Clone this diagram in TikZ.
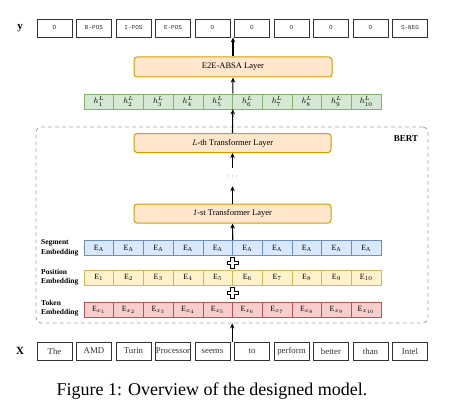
\documentclass[tikz,border=0pt]{standalone}
\usepackage{fontspec}
\setmainfont{Liberation Serif}
\setmonofont{Liberation Mono}
\usetikzlibrary{arrows.meta,calc}
\definecolor{boxgray}{HTML}{333333}
\definecolor{lyfill}{HTML}{FFE6CC}
\definecolor{lydraw}{HTML}{D79B00}
\definecolor{grfill}{HTML}{D5E8D4}
\definecolor{grdraw}{HTML}{82B366}
\definecolor{blfill}{HTML}{DAE8FC}
\definecolor{bldraw}{HTML}{6C8EBF}
\definecolor{yefill}{HTML}{FFF2CC}
\definecolor{yedraw}{HTML}{D6B656}
\definecolor{refill}{HTML}{F8CECC}
\definecolor{redraw}{HTML}{B85450}
\definecolor{dashgray}{HTML}{A6A6A6}
\tikzset{
  tagbox/.style={draw=boxgray, line width=0.9pt, minimum width=35pt, minimum height=18pt, inner sep=0pt, font=\ttfamily\fontsize{6}{7}\selectfont, text=boxgray},
  wordbox/.style={draw=boxgray, line width=0.9pt, minimum width=35pt, minimum height=18pt, inner sep=0pt, font=\fontsize{8.8}{10}\selectfont, text=boxgray},
  layerbox/.style={draw=lydraw, fill=lyfill, line width=1pt, rounded corners=3pt, minimum width=197pt, minimum height=19pt, inner sep=0pt, font=\fontsize{8.5}{10}\selectfont},
  cell/.style={minimum width=29.7pt, minimum height=15pt, inner sep=0pt, line width=0.6pt, font=\fontsize{8}{9}\selectfont},
  hcell/.style={cell, draw=grdraw, fill=grfill},
  scell/.style={cell, draw=bldraw, fill=blfill},
  pcell/.style={cell, draw=yedraw, fill=yefill},
  tcell/.style={cell, draw=redraw, fill=refill},
  conn/.style={-{Stealth[length=5pt,width=4.5pt]}, line width=1.1pt, black},
  rowlab/.style={anchor=west, align=left, inner sep=0pt, font=\bfseries\fontsize{7.5}{9.5}\selectfont},
  plussign/.style={draw=black, fill=white, line width=0.9pt}
}
\begin{document}
\begin{tikzpicture}[x=1pt,y=-1pt]
\useasboundingbox (0,0) rectangle (450,404);
% BERT container
\node (bert) [draw=dashgray, dashed, dash pattern=on 4pt off 3pt, line width=0.9pt, rounded corners=5pt, minimum width=392pt, minimum height=196pt, inner sep=0pt] at (232,225) {};
\node (bertlab) [font=\bfseries\fontsize{9}{10}\selectfont] at (406,139) {BERT};
% output tags
\node (ylab) [font=\bfseries\fontsize{11}{12}\selectfont] at (20,28) {y};
\foreach \t [count=\i] in {O,B-POS,I-POS,E-POS,O,O,O,O,O,S-NEG}
  \node (y\i) [tagbox] at ({54.5+39.5*(\i-1)},28) {\t};
% input words
\node (xlab) [font=\bfseries\fontsize{11}{12}\selectfont] at (20,351) {X};
\foreach \t [count=\i] in {The,AMD,Turin,Processor,seems,to,perform,better,than,Intel}
  \node (x\i) [wordbox] at ({54.5+39.5*(\i-1)},351) {\t};
% layers
\node (e2e) [layerbox, minimum width=198pt, minimum height=20pt] at (233,67) {E2E-ABSA Layer};
\node (lth) [layerbox] at (232.5,143) {$L$-th Transformer Layer};
\node (first) [layerbox] at (232.5,213.5) {\textit{1}-st Transformer Layer};
\node (dots) [minimum height=18pt, inner sep=0pt, font=\fontsize{8}{9}\selectfont, text=boxgray] at (232.5,177) {$\cdots$};
% hidden states
\foreach \i in {1,...,10}
  \node (h\i) [hcell] at ({98.85+29.7*(\i-1)},101.5) {$h^{L}_{\i}$};
% embeddings
\foreach \i in {1,...,10}{
  \node (s\i) [scell] at ({98.85+29.7*(\i-1)},248) {E$_{\mathrm{A}}$};
  \node (p\i) [pcell] at ({98.85+29.7*(\i-1)},277.5) {E$_{\i}$};
  \node (t\i) [tcell] at ({98.85+29.7*(\i-1)},309.5) {E$_{x_{\i}}$};
}
\node (segl) [rowlab] at (41,248) {Segment\\Embedding};
\node (posl) [rowlab] at (41,277) {Position\\Embedding};
\node (tokl) [rowlab] at (41,308) {Token\\Embedding};
% plus signs
\foreach \n/\yy in {plusa/263, plusb/293}{
  \coordinate (\n) at (232.5,\yy);
  \draw[plussign] ($(\n)+(-1.8,-5.5)$) -- ($(\n)+(1.8,-5.5)$) -- ($(\n)+(1.8,-1.8)$) -- ($(\n)+(5.5,-1.8)$) -- ($(\n)+(5.5,1.8)$) -- ($(\n)+(1.8,1.8)$) -- ($(\n)+(1.8,5.5)$) -- ($(\n)+(-1.8,5.5)$) -- ($(\n)+(-1.8,1.8)$) -- ($(\n)+(-5.5,1.8)$) -- ($(\n)+(-5.5,-1.8)$) -- ($(\n)+(-1.8,-1.8)$) -- cycle;
}
% connectors
\coordinate (ygap) at ($(y5.south east)!0.5!(y6.south west)$);
\coordinate (xgap) at ($(x5.north east)!0.5!(x6.north west)$);
\draw[conn] (e2e.north) -- (e2e.north |- ygap);
\draw[conn] (h5.north east) -- (e2e.south);
\draw[conn] (lth.north) -- (h5.south east);
\draw[conn] (dots.north) -- (lth.south);
\draw[conn] (first.north) -- (dots.south);
\draw[conn] (s5.north east) -- (first.south);
\draw[conn] (xgap) -- (xgap |- bert.south);
% caption
\node (cap) [anchor=base, inner sep=0pt, font=\fontsize{18}{20}\selectfont] at (212,395) {Figure 1: Overview of the designed model.};
\end{tikzpicture}
\end{document}
